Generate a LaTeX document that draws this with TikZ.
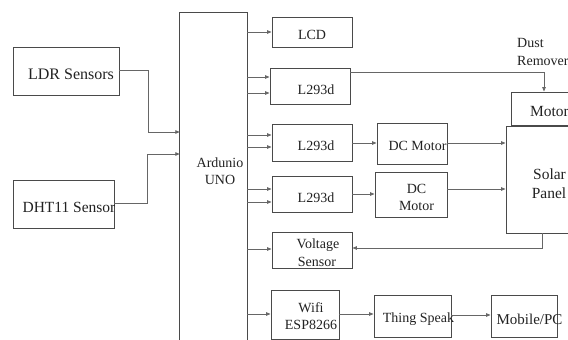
\documentclass[tikz,border=0pt]{standalone}
\usepackage{fontspec}
\setmainfont{Liberation Serif}
\usetikzlibrary{arrows.meta}
\definecolor{boxc}{HTML}{4A4A4A}
\definecolor{linec}{HTML}{666666}
\definecolor{txtc}{HTML}{222222}
\tikzset{
  box/.style={draw=boxc, line width=0.9pt, minimum width=#1, inner sep=0pt},
  txt/.style={text=txtc, inner sep=0pt, font=\fontsize{14}{16}\selectfont},
  bigtxt/.style={text=txtc, inner sep=0pt, font=\fontsize{15.5}{17}\selectfont},
  arr/.style={draw=linec, line width=0.8pt, -{Triangle[length=4.5pt,width=3.5pt]}},
  ln/.style={draw=linec, line width=0.8pt}
}
\begin{document}
\begin{tikzpicture}[x=1pt,y=-1pt]
\useasboundingbox[fill=white] (0,0) rectangle (568,340);
% Arduino (open at bottom)
\node[inner sep=0pt, minimum width=67pt, minimum height=340pt] (ard) at (213.5,183) {};
\draw[boxc, line width=0.9pt] (ard.west |- 0,345) -- (ard.north west) -- (ard.north east) -- (ard.east |- 0,345);
\node[txt] (ardt1) at (220,163) {Ardunio};
\node[txt] (ardt2) at (220,180) {UNO};
% left sensors
\node[box=106pt, minimum height=48pt] (ldr) at (66,71) {};
\node[bigtxt, font=\fontsize{16}{18}\selectfont] (ldrt) at (71,74) {LDR Sensors};
\node[box=101pt, minimum height=48pt] (dht) at (63.5,204) {};
\node[bigtxt] (dhtt) at (69,207) {DHT11 Sensor};
% right column
\node[box=80pt, minimum height=30pt] (lcd) at (312,32) {};
\node[txt] (lcdt) at (312,35) {LCD};
\node[box=80pt, minimum height=36pt] (l1) at (310,86) {};
\node[txt] (l1t) at (316,90) {L293d};
\node[box=80pt, minimum height=37pt] (l2) at (312,142.5) {};
\node[txt] (l2t) at (316,146) {L293d};
\node[box=80pt, minimum height=36pt] (l3) at (312,194) {};
\node[txt] (l3t) at (316,198) {L293d};
\node[box=80pt, minimum height=36pt] (vs) at (312,250) {};
\node[txt] (vst1) at (318,245) {Voltage};
\node[txt] (vst2) at (317,262) {Sensor};
\node[box=68pt, minimum height=49pt] (wifi) at (305,314.5) {};
\node[txt] (wifit1) at (311,308) {Wifi};
\node[txt] (wifit2) at (311,325) {ESP8266};
% motors etc
\node[box=70pt, minimum height=41pt] (dc1) at (412,143.5) {};
\node[txt] (dc1t) at (417.5,146) {DC Motor};
\node[box=72pt, minimum height=45pt] (dc2) at (411,194.5) {};
\node[txt] (dc2t1) at (416.5,189) {DC};
\node[txt] (dc2t2) at (416.5,206) {Motor};
\node[box=77pt, minimum height=42pt] (ts) at (412.5,316) {};
\node[txt] (tst) at (418.5,319) {Thing Speak};
\node[box=66pt, minimum height=42pt] (mpc) at (524,316) {};
\node[txt, font=\fontsize{15}{17}\selectfont] (mpct) at (529.5,319) {Mobile/PC};
\node[box=74pt, minimum height=33pt] (motor) at (548,108.5) {};
\node[bigtxt] (motort) at (549.5,112) {Motor};
\node[box=84pt, minimum height=107pt] (solar) at (548,179.5) {};
\node[bigtxt] (solart1) at (549.5,174) {Solar};
\node[bigtxt] (solart2) at (549,193) {Panel};
\node[txt, anchor=west] (dust1) at (517,43) {Dust};
\node[txt, anchor=west] (dust2) at (517,61) {Remover};
% connectors from sensors
\draw[arr] (ldr.east |- 0,70) -- (148,70) -- (148,132) -- (ard.west |- 0,132);
\draw[arr] (dht.east |- 0,203) -- (147,203) -- (147,154) -- (ard.west |- 0,154);
% Arduino outputs
\draw[arr] (ard.east |- 0,32) -- (lcd.west |- 0,32);
\draw[arr] (ard.east |- 0,77) -- (l1.west |- 0,77);
\draw[arr] (ard.east |- 0,93) -- (l1.west |- 0,93);
\draw[arr] (ard.east |- 0,135) -- (l2.west |- 0,135);
\draw[arr] (ard.east |- 0,147) -- (l2.west |- 0,147);
\draw[arr] (ard.east |- 0,189) -- (l3.west |- 0,189);
\draw[arr] (ard.east |- 0,202) -- (l3.west |- 0,202);
\draw[arr] (ard.east |- 0,249) -- (vs.west |- 0,249);
\draw[arr] (ard.east |- 0,314) -- (wifi.west |- 0,314);
% other connectors
\draw[arr] (l1.east |- 0,72) -- (544,72) -- (544,0 |- motor.north);
\draw[arr] (l2.east |- 0,143) -- (dc1.west |- 0,143);
\draw[arr] (dc1.east |- 0,143) -- (solar.west |- 0,143);
\draw[arr] (l3.east |- 0,194) -- (dc2.west |- 0,194);
\draw[arr] (dc2.east |- 0,189) -- (solar.west |- 0,189);
\draw[arr] (542,0 |- solar.south) -- (542,248) -- (vs.east |- 0,248);
\draw[arr] (wifi.east |- 0,314) -- (ts.west |- 0,314);
\draw[arr] (ts.east |- 0,315) -- (mpc.west |- 0,315);
\end{tikzpicture}
\end{document}
